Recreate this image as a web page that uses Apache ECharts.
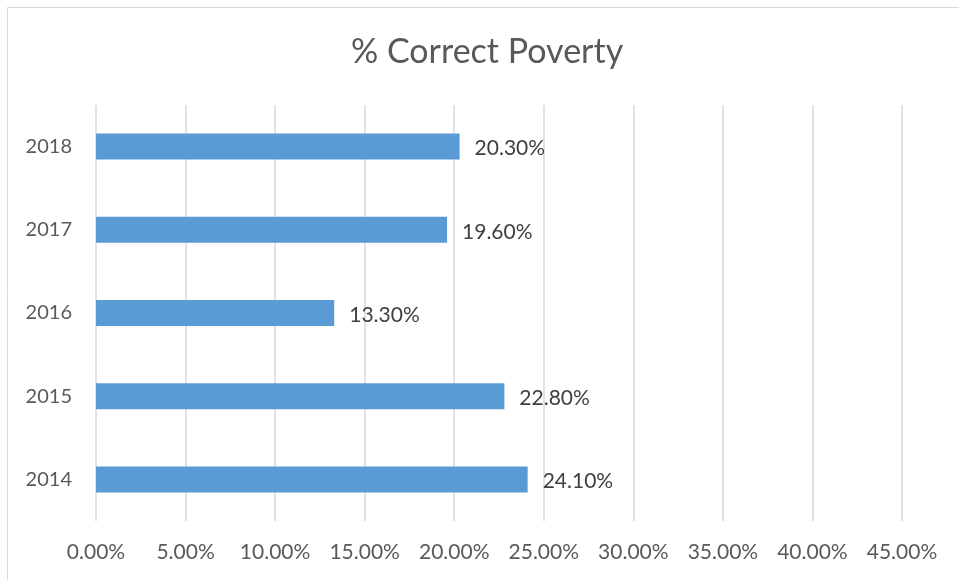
<!DOCTYPE html>
<html>
<head>
<meta charset="utf-8">
<script src="https://cdn.jsdelivr.net/npm/echarts@6/dist/echarts.min.js"></script>
<style>
  html, body { margin: 0; padding: 0; background: #fff; }
  #chart { width: 959px; height: 580px; }
</style>
</head>
<body>
<div id="chart"></div>
<script>
// Share of correct poverty answers by year
const years = ['2014', '2015', '2016', '2017', '2018'];
const correctPct = [24.1, 22.8, 13.3, 19.6, 20.3];
const xTicks = [0, 5, 10, 15, 20, 25, 30, 35, 40, 45];

const FONT = 'Lato, "Open Sans", sans-serif';
const TEXT = '#595959';

const chart = echarts.init(document.getElementById('chart'), null, { renderer: 'canvas' });

chart.setOption({
  backgroundColor: '#ffffff',
  animation: false,
  graphic: [{
    type: 'rect',
    shape: { x: 7.5, y: 7.5, width: 1000, height: 1000 },
    style: { fill: 'none', stroke: '#d9d9d9', lineWidth: 1 },
    silent: true
  }],
  title: {
    text: '% Correct Poverty',
    left: 346,
    top: 30,
    textStyle: { fontFamily: FONT, fontSize: 34, fontWeight: 'normal', color: TEXT }
  },
  grid: { left: 96, right: 57, top: 105, bottom: 59, containLabel: false },
  xAxis: {
    type: 'value',
    min: xTicks[0],
    max: xTicks[xTicks.length - 1],
    interval: 5,
    axisLine: { show: false },
    axisTick: { show: false },
    splitLine: { show: true, lineStyle: { color: '#d9d9d9', width: 1.5 } },
    axisLabel: {
      margin: 21,
      fontFamily: FONT, fontSize: 21, color: TEXT,
      formatter: v => v.toFixed(2) + '%'
    }
  },
  yAxis: {
    type: 'category',
    data: years,
    axisLine: { show: false },
    axisTick: { show: false },
    splitLine: { show: false },
    axisLabel: { margin: 24, fontFamily: FONT, fontSize: 20, color: TEXT }
  },
  series: [{
    type: 'bar',
    data: correctPct,
    barWidth: 26,
    itemStyle: { color: '#5b9bd5' },
    label: {
      show: true,
      position: 'right',
      distance: 15,
      offset: [0, 2],
      fontFamily: FONT, fontSize: 21, color: '#404040',
      formatter: p => p.value.toFixed(2) + '%'
    }
  }]
});
</script>
</body>
</html>
